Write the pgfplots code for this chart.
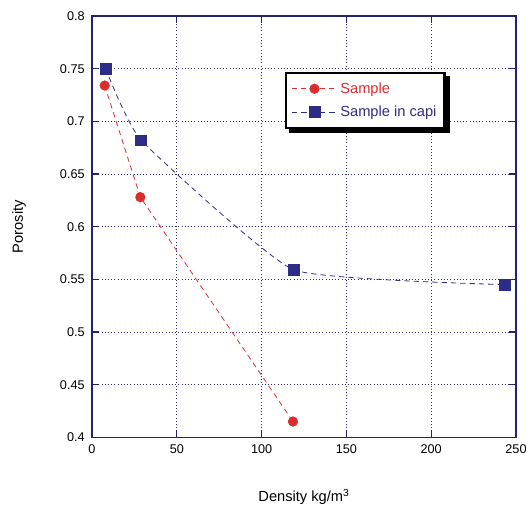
\documentclass[border=0pt]{standalone}
\usepackage{fontspec}
\setmainfont{Liberation Sans}
\usepackage{pgfplots}
\pgfplotsset{compat=1.18}
\definecolor{sred}{RGB}{218,45,45}
\definecolor{sblue}{RGB}{45,45,135}

\begin{document}
\begin{tikzpicture}
\begin{axis}[
  name=ax,
  scale only axis,
  width=318pt, height=316pt,
  xmin=0, xmax=250, ymin=0.4, ymax=0.8,
  xtick={0,50,100,150,200,250},
  ytick={0.4,0.45,...,0.8},
  font=\fontsize{9.5}{11}\selectfont,
  /pgf/number format/assume math mode=true,
  axis line style={sblue!80!black, line width=0.8pt},
  tick style={sblue!80!black, line width=0.8pt},
  major tick length=5pt,
  grid=major,
  major grid style={sblue, dotted, line width=0.6pt},
  xticklabel style={yshift=-2pt},
  yticklabel style={xshift=-2pt},
  xlabel={Density kg/m\textsuperscript{3}},
  ylabel={Porosity},
  label style={font=\fontsize{11}{13}\selectfont},
  xlabel style={at={(axis description cs:0.5,-0.152)}, anchor=base},
  ylabel style={at={(axis description cs:-0.172,0.5)}, anchor=center},
  legend cell align=left,
  legend image code/.code={%
    \draw[line width=0.6pt, mark repeat=2, mark phase=2] plot coordinates {(0cm,0cm) (0.6cm,0cm) (1.2cm,0cm)};},
  legend style={name=leg, at={(0.455,0.867)}, anchor=north west, draw=black, line width=1.6pt,
    fill=white, inner xsep=4pt, inner ysep=5pt, row sep=4pt,
    font=\fontsize{11}{13}\selectfont},
]
\addplot[sred, dash pattern=on 4pt off 3pt, line width=0.6pt, mark=*, mark size=3.6pt, mark options={solid, fill=sred, line width=0.4pt}]
  coordinates {(7.5,0.734) (28.5,0.628) (118.5,0.415)};
\addlegendentry{\textcolor{sred}{Sample}}
\addplot[sblue, dash pattern=on 4pt off 3pt, line width=0.6pt, smooth, tension=0.25, mark=square*, mark size=4.1pt, mark options={solid, fill=sblue, line width=0.4pt}]
  coordinates {(8,0.750) (29,0.682) (119,0.559) (243.5,0.545)};
\addlegendentry{\textcolor{sblue}{Sample in capi}}
\end{axis}
% drop shadow of the legend box, right and bottom strips only
\fill[black] ([yshift=-3pt]leg.north east) rectangle ([xshift=3pt,yshift=-3pt]leg.south east);
\fill[black] ([xshift=3pt]leg.south west) rectangle ([xshift=3pt,yshift=-3pt]leg.south east);
\pgfresetboundingbox
\path[use as bounding box] ([xshift=-69pt,yshift=-53pt]ax.south west) rectangle ([xshift=9pt,yshift=12pt]ax.north east);
\end{tikzpicture}
\end{document}
